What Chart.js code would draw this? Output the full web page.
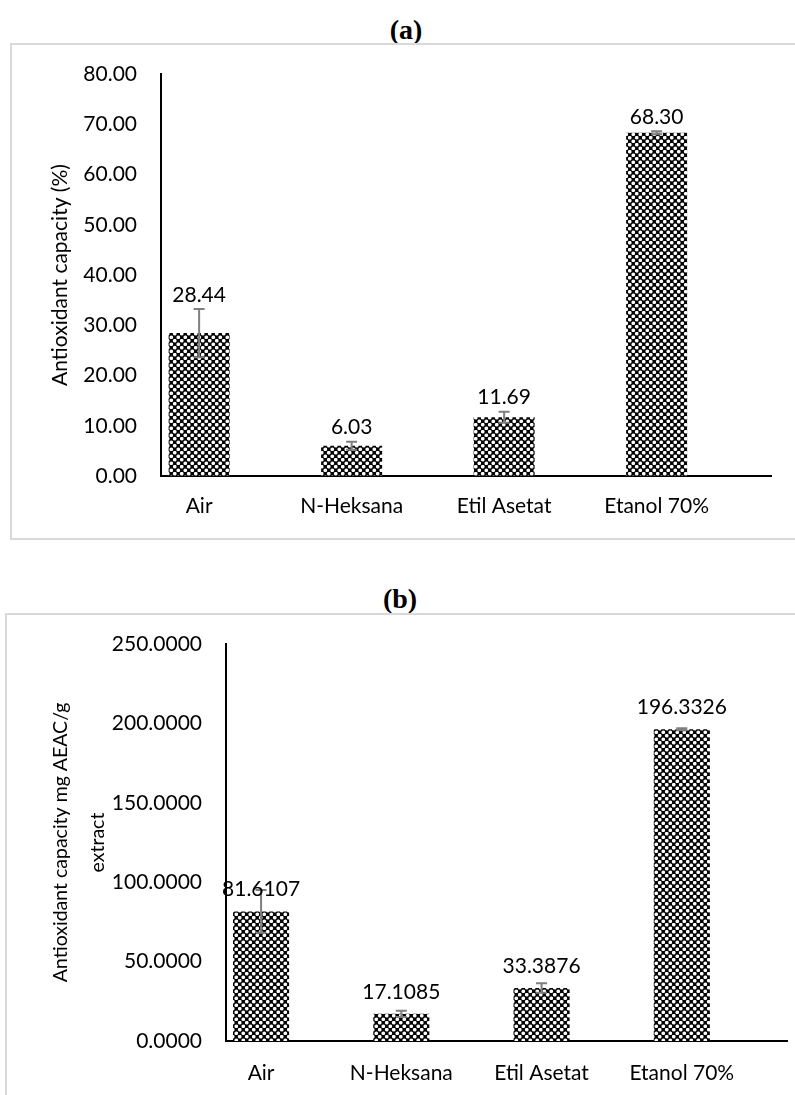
<!DOCTYPE html>
<html>
<head>
<meta charset="utf-8">
<script src="https://cdn.jsdelivr.net/npm/chart.js@4"></script>
<style>
  html, body { margin: 0; padding: 0; background: #fff; }
  body { width: 795px; height: 1095px; overflow: hidden; position: relative; }
  .panel-title { position: absolute; width: 80px; text-align: center; line-height: 28px; font: bold 28px/28px "Liberation Serif", "Times New Roman", serif; color: #000; }
  .box { position: absolute; border: 2px solid #d9d9d9; background: #fff; }
  .box canvas { display: block; }
</style>
</head>
<body>
<div class="panel-title" style="left:366px; top:16px;">(a)</div>
<div class="box" style="left:10px; top:43px; width:790px; height:493px;">
  <canvas id="chartA" width="790" height="493"></canvas>
</div>

<div class="panel-title" style="left:360px; top:585px;">(b)</div>
<div class="box" style="left:5px; top:613px; width:795px; height:500px;">
  <canvas id="chartB" width="795" height="500"></canvas>
</div>

<script>
const categories = ['Air', 'N-Heksana', 'Etil Asetat', 'Etanol 70%'];

// (a) antioxidant capacity, %
const percentValues = [28.44, 6.03, 11.69, 68.30];
const percentErrors = [4.8, 0.8, 1.1, 0.3];
const percentTicks = { min: 0, max: 80, step: 10, decimals: 2 };

// (b) antioxidant capacity, mg AEAC/g extract
const aeacValues = [81.6107, 17.1085, 33.3876, 196.3326];
const aeacErrors = [13.5, 2.0, 3.0, 0.6];
const aeacTicks = { min: 0, max: 250, step: 50, decimals: 4 };

const FONT = 'Lato, "Open Sans", sans-serif';

// black fill with white round holes on a checker lattice
function makePattern() {
  const size = 7;
  const c = document.createElement('canvas');
  c.width = size; c.height = size;
  const g = c.getContext('2d');
  g.fillStyle = '#000';
  g.fillRect(0, 0, size, size);
  g.fillStyle = '#fff';
  const centers = [[1.75, 1.75], [5.25, 5.25]];
  for (const [cx, cy] of centers) {
    for (const ox of [-size, 0, size]) for (const oy of [-size, 0, size]) {
      g.beginPath();
      g.arc(cx + ox, cy + oy, 1.85, 0, Math.PI * 2);
      g.fill();
    }
  }
  return g.createPattern(c, 'repeat');
}

// error bars and value labels, drawn through the chart's scales
const errorBarPlugin = {
  id: 'errorBars',
  afterDatasetsDraw(chart, args, opts) {
    const { ctx, scales: { x, y } } = chart;
    ctx.save();
    opts.values.forEach((v, i) => {
      const e = opts.errors[i];
      const px = x.getPixelForValue(i);
      const top = y.getPixelForValue(v + e);
      const bot = y.getPixelForValue(v - e);
      ctx.strokeStyle = '#7f7f7f';
      ctx.lineWidth = 2;
      ctx.beginPath();
      ctx.moveTo(px, top); ctx.lineTo(px, bot);
      ctx.moveTo(px - 5.5, top); ctx.lineTo(px + 5.5, top);
      ctx.moveTo(px - 5.5, bot); ctx.lineTo(px + 5.5, bot);
      ctx.stroke();

      const anchor = opts.labelFrom === 'error' ? top : y.getPixelForValue(v);
      ctx.fillStyle = '#000';
      ctx.font = '21px ' + FONT;
      ctx.textAlign = 'center';
      ctx.textBaseline = 'middle';
      ctx.fillText(v.toFixed(opts.decimals), px, anchor - opts.labelGap);
    });
    ctx.restore();
  }
};

function buildChart(id, values, errors, ticks, title, cfg) {
  const ctx = document.getElementById(id);
  return new Chart(ctx, {
    type: 'bar',
    data: {
      datasets: [{
        data: values.map((v, i) => ({ x: i, y: v })),
        backgroundColor: makePattern(),
        borderWidth: 0,
        categoryPercentage: 1,
        barPercentage: 0.4
      }]
    },
    options: {
      responsive: false,
      animation: false,
      events: [],
      layout: { padding: cfg.padding },
      plugins: {
        legend: { display: false },
        tooltip: { enabled: false },
        errorBars: { values, errors, decimals: ticks.decimals, labelFrom: cfg.labelFrom, labelGap: cfg.labelGap }
      },
      scales: {
        x: {
          type: 'linear',
          min: -0.25,
          max: 3.75,
          offset: false,
          grid: { display: false, drawTicks: false, offset: false },
          border: { display: true, color: '#000', width: 2 },
          afterBuildTicks: (s) => { s.ticks = categories.map((c, i) => ({ value: i })); },
          afterFit: (s) => { s.height = 50; s.paddingLeft = 0; s.paddingRight = 0; },
          ticks: {
            color: '#000',
            font: { family: FONT, size: 21 },
            padding: cfg.xTickPad,
            maxRotation: 0,
            autoSkip: false,
            callback: (v) => categories[v]
          }
        },
        y: {
          min: ticks.min,
          max: ticks.max,
          grid: { display: false, drawTicks: false },
          border: { display: true, color: '#000', width: 2 },
          afterFit: (s) => { s.width = cfg.yWidth; s.paddingTop = 0; s.paddingBottom = 0; },
          ticks: {
            stepSize: ticks.step,
            color: '#000',
            font: { family: FONT, size: 21 },
            padding: 24,
            callback: (v) => Number(v).toFixed(ticks.decimals)
          },
          title: {
            display: true,
            text: title,
            color: '#000',
            font: { family: FONT, size: cfg.titleSize, lineHeight: cfg.titleLineHeight },
            padding: { top: cfg.titlePad, bottom: 0 }
          }
        }
      }
    },
    plugins: [errorBarPlugin]
  });
}

buildChart('chartA', percentValues, percentErrors, percentTicks, 'Antioxidant capacity (%)', {
  padding: { left: 0, top: 29, right: 31, bottom: 12 },
  yWidth: 149,
  xTickPad: 18,
  titleSize: 21,
  titlePad: 36,
  titleLineHeight: 1.2,
  labelFrom: 'error',
  labelGap: 14
});

buildChart('chartB', aeacValues, aeacErrors, aeacTicks, ['Antioxidant capacity mg AEAC/g', 'extract'], {
  padding: { left: 0, top: 29, right: 15, bottom: 24 },
  yWidth: 219,
  xTickPad: 20,
  titleSize: 19.5,
  titlePad: 35,
  titleLineHeight: 1.9,
  labelFrom: 'bar',
  labelGap: 22
});
</script>
</body>
</html>
